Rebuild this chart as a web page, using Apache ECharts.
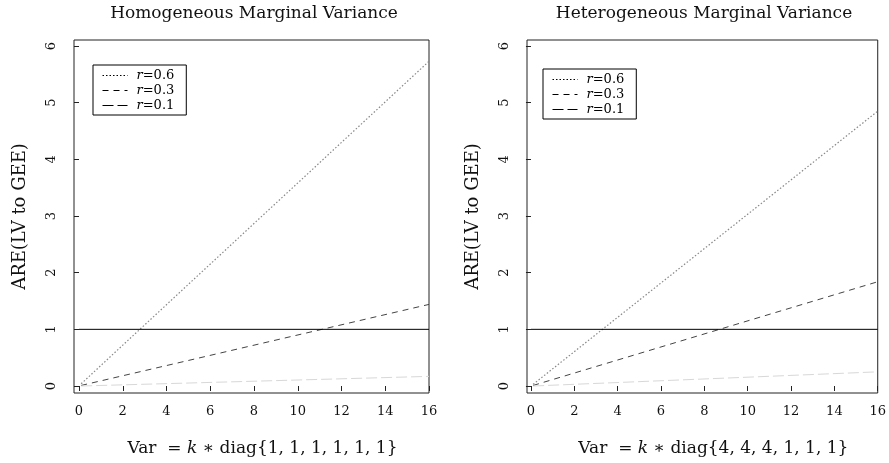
<!DOCTYPE html>
<html>
<head>
<meta charset="utf-8">
<script src="https://cdn.jsdelivr.net/npm/echarts@6/dist/echarts.min.js"></script>
<style>
html, body { margin: 0; padding: 0; background: #fff; }
#chart { width: 889px; height: 463px; }
</style>
</head>
<body>
<div id="chart"></div>
<script>
// k values (start / end of each curve)
var kVals = [0.1, 16];
// homogeneous marginal variance
var homR06 = [0.04, 5.73];
var homR03 = [0.01, 1.44];
var homR01 = [0.0, 0.17];
// heterogeneous marginal variance
var hetR06 = [0.03, 4.85];
var hetR03 = [0.01, 1.84];
var hetR01 = [0.0, 0.25];
// reference line ARE = 1
var refK = [0, 16];
var refY = [1, 1];

var xTicks = [0, 2, 4, 6, 8, 10, 12, 14, 16];
var yTicks = [0, 1, 2, 3, 4, 5, 6];
var names = ['r=0.6', 'r=0.3', 'r=0.1'];

var serif = '"DejaVu Serif", "Liberation Serif", serif';

function pairs(xs, ys) {
    var out = [];
    for (var i = 0; i < xs.length; i++) out.push([xs[i], ys[i]]);
    return out;
}

var myChart = echarts.init(document.getElementById('chart'));

function xAxisFor(idx, minVal, label) {
    return {
        type: 'value',
        gridIndex: idx,
        min: minVal,
        max: 16,
        axisLine: { show: false },
        splitLine: { show: false },
        axisTick: { show: true, length: 5, customValues: xTicks, lineStyle: { color: '#222' } },
        axisLabel: { customValues: xTicks, margin: 12, color: '#111', fontFamily: serif, fontSize: 13 },
        name: label,
        nameLocation: 'middle',
        nameGap: 47,
        nameTextStyle: {
            color: '#111', fontFamily: serif, fontSize: 17, padding: [0, 0, 0, 22],
            rich: { i: { fontStyle: 'italic', fontFamily: serif, fontSize: 17, color: '#111' } }
        }
    };
}

function yAxisFor(idx) {
    return {
        type: 'value',
        gridIndex: idx,
        min: -0.1235,
        max: 6.106,
        axisLine: { show: false },
        splitLine: { show: false },
        axisTick: { show: true, length: 5, customValues: yTicks, lineStyle: { color: '#222' } },
        axisLabel: { customValues: yTicks, rotate: 90, margin: 16, color: '#111', fontFamily: serif, fontSize: 13 },
        name: 'ARE(LV to GEE)',
        nameLocation: 'middle',
        nameRotate: 90,
        nameGap: 45,
        nameTextStyle: { color: '#111', fontFamily: serif, fontSize: 18 }
    };
}

function panelSeries(idx, r06, r03, r01) {
    return [
        {
            name: 'r=0.6', type: 'line', xAxisIndex: idx, yAxisIndex: idx,
            data: pairs(kVals, r06), symbol: 'none', silent: true,
            lineStyle: { color: '#888', width: 1.2, type: [1.5, 2] }
        },
        {
            name: 'r=0.3', type: 'line', xAxisIndex: idx, yAxisIndex: idx,
            data: pairs(kVals, r03), symbol: 'none', silent: true,
            lineStyle: { color: '#444', width: 1, type: [6, 5] }
        },
        {
            name: 'r=0.1', type: 'line', xAxisIndex: idx, yAxisIndex: idx,
            data: pairs(kVals, r01), symbol: 'none', silent: true,
            lineStyle: { color: '#d8d8d8', width: 1, type: [11, 4] }
        },
        {
            name: 'ref', type: 'line', xAxisIndex: idx, yAxisIndex: idx,
            data: pairs(refK, refY), symbol: 'none', silent: true,
            lineStyle: { color: '#000', width: 1, type: 'solid' }
        }
    ];
}

function legendAt(left, top) {
    return {
        data: names,
        orient: 'vertical',
        left: left,
        top: top,
        itemWidth: 25,
        itemHeight: 8,
        itemGap: 2,
        padding: [4, 12, 3, 9],
        borderColor: '#000',
        borderWidth: 1,
        selectedMode: false,
        itemStyle: { opacity: 0 },
        lineStyle: { color: '#000', width: 1 },
        formatter: function (name) {
            return '{i|r}{n|' + name.slice(1) + '}';
        },
        textStyle: {
            padding: [0, 0, 0, 4],
            rich: {
                i: { fontStyle: 'italic', fontFamily: serif, fontSize: 13, color: '#000', lineHeight: 11 },
                n: { fontFamily: serif, fontSize: 13, color: '#000', lineHeight: 11 }
            }
        }
    };
}

var option = {
    animation: false,
    backgroundColor: '#fff',
    graphic: [
        { type: 'text', x: 254, y: 14, style: { text: 'Homogeneous Marginal Variance', align: 'center', verticalAlign: 'middle', font: '17px ' + serif, fill: '#111' } },
        { type: 'text', x: 704, y: 14, style: { text: 'Heterogeneous Marginal Variance', align: 'center', verticalAlign: 'middle', font: '17px ' + serif, fill: '#111' } }
    ],
    legend: [legendAt(93, 65), legendAt(543, 69)],
    grid: [
        { left: 74, top: 40, width: 355, height: 353, show: true, borderColor: '#222', borderWidth: 1, containLabel: false },
        { left: 527, top: 40, width: 354, height: 353, show: true, borderColor: '#222', borderWidth: 1, containLabel: false }
    ],
    xAxis: [
        xAxisFor(0, -0.2286, 'Var  = {i|k} \u2217 diag{1, 1, 1, 1, 1, 1}'),
        xAxisFor(1, -0.183, 'Var  = {i|k} \u2217 diag{4, 4, 4, 1, 1, 1}')
    ],
    yAxis: [yAxisFor(0), yAxisFor(1)],
    series: panelSeries(0, homR06, homR03, homR01).concat(panelSeries(1, hetR06, hetR03, hetR01))
};

myChart.setOption(option);
</script>
</body>
</html>
